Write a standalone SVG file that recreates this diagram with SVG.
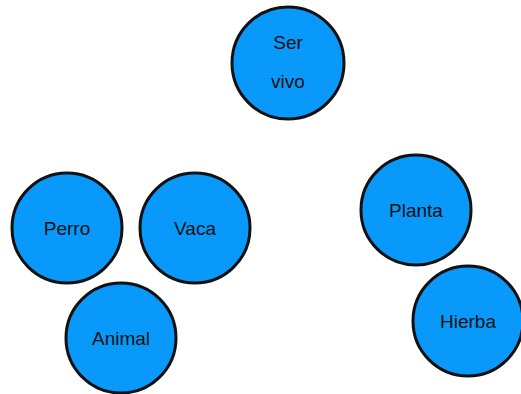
<svg xmlns="http://www.w3.org/2000/svg" width="521" height="394" viewBox="0 0 521 394">
<style>
.n{fill:#0899fa;stroke:#111;stroke-width:3}
.t{font-family:"Liberation Sans",Arial,sans-serif;font-size:19px;fill:#111;text-anchor:middle;dominant-baseline:central}
</style>
<rect width="521" height="394" fill="#fff"/>
<g id="connectors"></g>
<g id="ser-vivo"><circle class="n" cx="288" cy="63" r="56"/><text class="t" x="288" y="42">Ser</text><text class="t" x="288" y="81">vivo</text></g>
<g id="perro"><circle class="n" cx="67" cy="228" r="55"/><text class="t" x="67" y="228">Perro</text></g>
<g id="vaca"><circle class="n" cx="195" cy="228" r="55"/><text class="t" x="195" y="228">Vaca</text></g>
<g id="animal"><circle class="n" cx="121" cy="338" r="55"/><text class="t" x="121" y="338">Animal</text></g>
<g id="planta"><circle class="n" cx="416" cy="210" r="55"/><text class="t" x="416" y="210">Planta</text></g>
<g id="hierba"><circle class="n" cx="468" cy="321" r="55"/><text class="t" x="468" y="321">Hierba</text></g>
</svg>
